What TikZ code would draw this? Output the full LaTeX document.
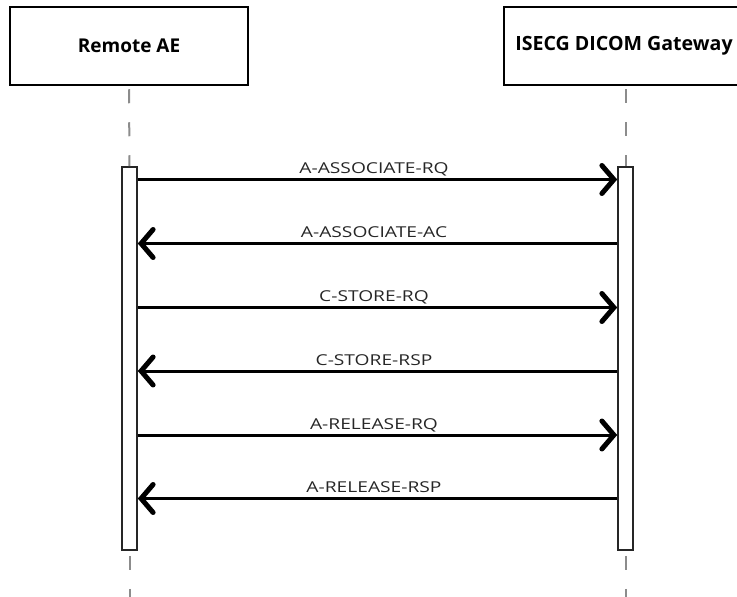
\documentclass[tikz,border=0pt]{standalone}
\usepackage{fontspec}
\setmainfont{Open Sans}
\newfontfamily\lblfont[FakeStretch=1.28]{Open Sans}
\usetikzlibrary{arrows.meta}
\begin{document}
\begin{tikzpicture}[x=1pt,y=-1pt,
  actor/.style={draw=black, line width=2.5pt, fill=white, minimum width=238pt, minimum height=78pt, inner sep=0pt, font=\bfseries\fontsize{19}{22}\selectfont},
  bar/.style={draw=black!85, line width=1.6pt, fill=white, minimum width=15pt, minimum height=383pt, inner sep=0pt},
  life/.style={draw=black!45, line width=2pt, dash pattern=on 14pt off 19pt},
  msg/.style={draw=black, line width=3pt, -{Straight Barb[length=12pt,width=28pt,line width=5pt,line cap=round,line join=miter]}},
  lbl/.style={font=\lblfont\fontsize{15}{18}\selectfont, text=black!85, anchor=base, inner sep=0pt}
]
\useasboundingbox (0,0) rectangle (737,597);
\clip (0,0) rectangle (737,597);
\node[actor] (ae) at (129,46) {Remote AE};
\node[actor, minimum width=240pt, font=\bfseries\fontsize{19.6}{24}\selectfont] (gw) at (624,46) {ISECG DICOM Gateway};
\node[bar] (barL) at (129.5,358.5) {};
\node[bar] (barR) at (625.5,358.5) {};
\coordinate (endL) at (129.5,600);
\coordinate (endR) at (625.5,600);
\draw[life] ([yshift=-3pt]ae.south) -- (barL.north);
\draw[life] (gw.south -| barR.north) ++(0,3) -- (barR.north);
\draw[life, dash phase=-3pt] ([yshift=-2pt]barL.south) -- (endL);
\draw[life, dash phase=-3pt] ([yshift=-2pt]barR.south) -- (endR);
\foreach \i/\y/\t/\d in {1/179.5/A-ASSOCIATE-RQ/r, 2/243.5/A-ASSOCIATE-AC/l, 3/307.5/C-STORE-RQ/r, 4/371/C-STORE-RSP/l, 5/435/A-RELEASE-RQ/r, 6/498.5/A-RELEASE-RSP/l}{
  \coordinate (m\i) at (374,\y);
  \if r\d
    \draw[msg] (barL.east |- m\i) -- (barR.west |- m\i);
  \else
    \draw[msg] (barR.west |- m\i) -- (barL.east |- m\i);
  \fi
  \node[lbl] (t\i) at ([yshift=6pt]m\i) {\t};
}
\end{tikzpicture}
\end{document}
